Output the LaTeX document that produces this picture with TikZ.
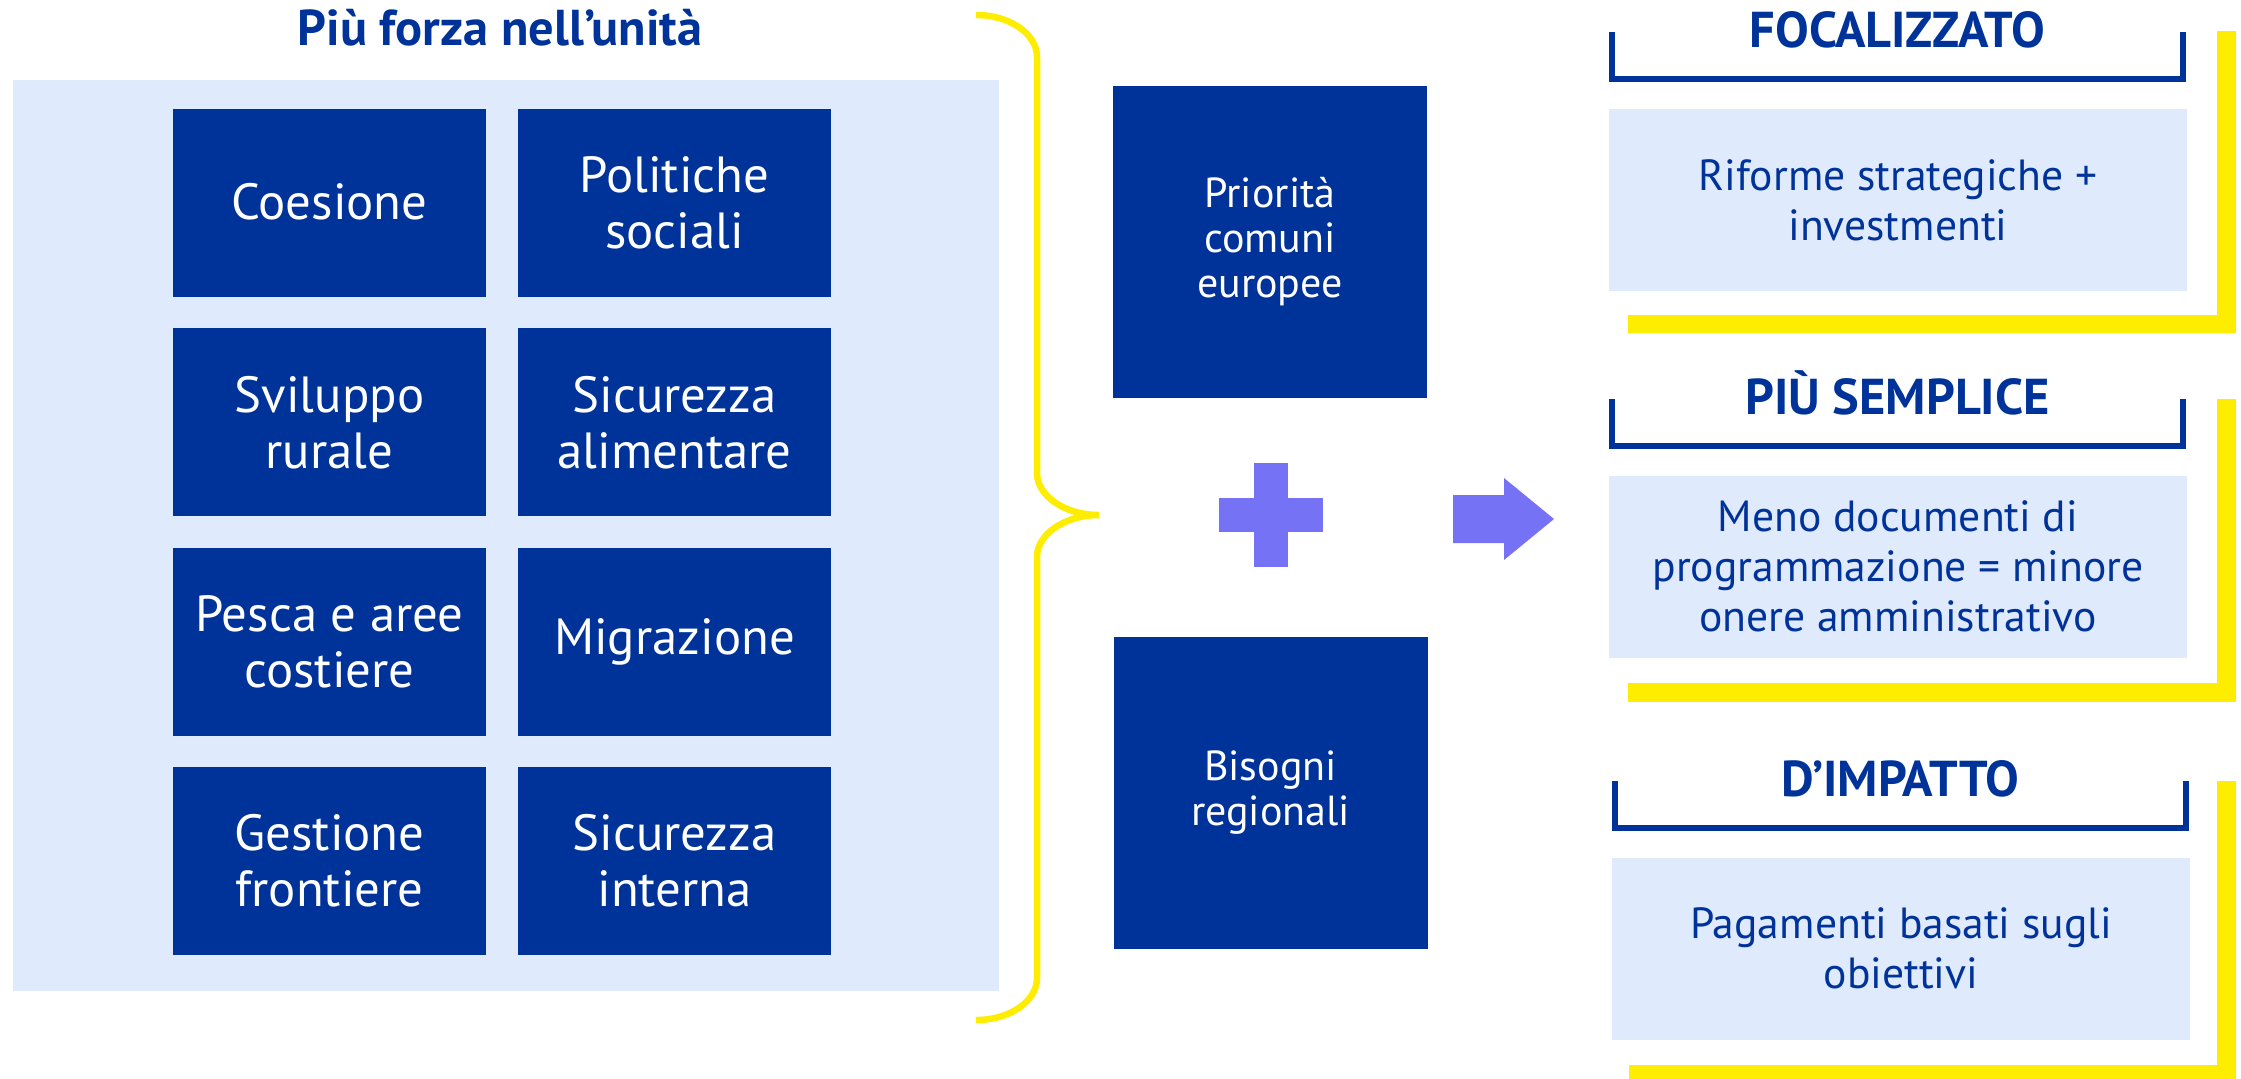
\documentclass[tikz,border=0pt]{standalone}
\usepackage{fontspec}
\setmainfont{PT Sans}
\definecolor{eublue}{HTML}{003399}
\definecolor{lightblue}{HTML}{E0EAFD}
\definecolor{euyellow}{HTML}{FFED00}
\definecolor{violetblue}{HTML}{7672F6}
\begin{document}
\begin{tikzpicture}[x=0.5pt,y=-0.5pt,
  darkbox/.style={fill=eublue, text=white, inner sep=0pt, align=center,
    font=\fontsize{25.4}{28}\selectfont, minimum width=156.5pt, minimum height=94pt},
  midbox/.style={fill=eublue, text=white, inner sep=0pt, align=center,
    font=\fontsize{21}{22.5}\selectfont, minimum width=157pt, minimum height=156pt},
  lightbox/.style={fill=lightblue, text=eublue, inner sep=0pt, align=center,
    font=\fontsize{21.8}{25}\selectfont, minimum width=289pt, minimum height=91pt},
  bgpanel/.style={fill=lightblue, inner sep=0pt, minimum width=493pt, minimum height=455.5pt},
  titletext/.style={text=eublue, inner sep=0pt, font=\bfseries\fontsize{25.2}{29}\selectfont},
  bracketline/.style={draw=eublue, line width=3pt},
  yellowL/.style={draw=euyellow, line width=9.25pt},
  bracestroke/.style={draw=euyellow, line width=3.25pt},
  signfill/.style={fill=violetblue}
]
\useasboundingbox (0,0) rectangle (2241,1078);

% left panel
\node[bgpanel] (panel) at (506,535.5) {};
\node[titletext, anchor=base] (title) at (500,45) {Più forza nell’unità};

\node[darkbox] (coesione) at (329.5,203) {\raisebox{1.5pt}{Coesione}};
\node[darkbox] (politiche) at (674.5,203) {Politiche\\sociali};
\node[darkbox] (sviluppo) at (329.5,422.3) {Sviluppo\\rurale};
\node[darkbox] (alimentare) at (674.5,422.3) {Sicurezza\\alimentare};
\node[darkbox] (pesca) at (329.5,641.7) {Pesca e aree\\costiere};
\node[darkbox] (migrazione) at (674.5,641.7) {\raisebox{1.5pt}{Migrazione}};
\node[darkbox] (frontiere) at (329.5,861.1) {Gestione\\frontiere};
\node[darkbox] (interna) at (674.5,861.1) {Sicurezza\\interna};

% brace
\draw[bracestroke] (976,15) .. controls (1010,15) and (1037,34) .. (1037,57)
  -- (1037,473) .. controls (1037,496) and (1065,515) .. (1099,515)
  .. controls (1065,515) and (1037,534) .. (1037,557)
  -- (1037,978) .. controls (1037,1001) and (1010,1020) .. (976,1020);

% middle
\node[midbox] (priorita) at (1270,242) {Priorità\\comuni\\europee};
\node[midbox] (bisogni) at (1270.5,793) {Bisogni\\regionali};

\fill[signfill] (1254,463) rectangle (1288,567);
\fill[signfill] (1219,498) rectangle (1323,532);

\fill[signfill] (1453,495) -- (1504,495) -- (1504,478) -- (1554,519)
  -- (1504,560) -- (1504,543) -- (1453,543) -- cycle;

% right column
\draw[yellowL] (1628,324) -- (2226.5,324) -- (2226.5,31);
\draw[yellowL] (1628,692.5) -- (2226.5,692.5) -- (2226.5,399);
\draw[yellowL] (1629,1074) -- (2226.5,1074) -- (2226.5,781);

\draw[bracketline] (1612,32) -- (1612,79) -- (2183,79) -- (2183,32);
\draw[bracketline] (1612,399) -- (1612,446) -- (2183,446) -- (2183,399);
\draw[bracketline] (1615,781) -- (1615,828) -- (2186,828) -- (2186,781);

\node[titletext, anchor=base] (h1) at (1897.5,47) {FOCALIZZATO};
\node[titletext, anchor=base] (h2) at (1897.5,414) {PIÙ SEMPLICE};
\node[titletext, anchor=base] (h3) at (1900.5,796) {D’IMPATTO};

\node[lightbox] (r1) at (1898,200) {Riforme strategiche +\\investmenti};
\node[lightbox] (r2) at (1898,566.5) {Meno documenti di\\programmazione = minore\\onere amministrativo};
\node[lightbox] (r3) at (1901,948.5) {Pagamenti basati sugli\\obiettivi};
\end{tikzpicture}
\end{document}
